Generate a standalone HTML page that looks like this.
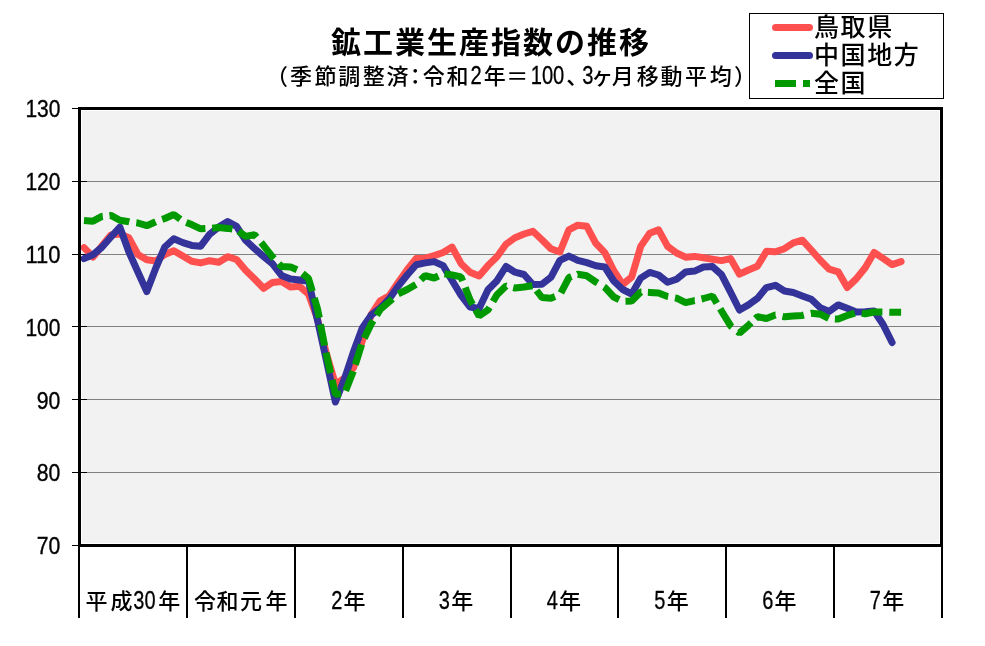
<!DOCTYPE html>
<html lang="ja"><head><meta charset="utf-8"><title>鉱工業生産指数の推移</title>
<style>
html,body{margin:0;padding:0;background:#fff;}
svg{display:block;}
text{font-family:"Liberation Sans","Noto Sans CJK JP",sans-serif;fill:#000;}
.t{font-size:30px;font-weight:bold;letter-spacing:2px;}
.s{font-size:22px;font-weight:500;}
.sd{font-size:25.5px;text-anchor:middle;stroke:#000;stroke-width:0.3px;}
.y{font-size:23.3px;text-anchor:end;stroke:#000;stroke-width:0.35px;}
.x{font-size:22px;text-anchor:middle;font-weight:500;}
.xd{font-size:25px;text-anchor:middle;stroke:#000;stroke-width:0.3px;}
.l{font-size:25px;font-weight:500;letter-spacing:1.6px;}
</style></head><body>
<svg width="985" height="646" viewBox="0 0 985 646">
<rect width="985" height="646" fill="#fff"/>
<rect x="82" y="111" width="857" height="432" fill="#f2f2f2"/>
<rect x="81" y="181" width="859" height="1" fill="#808080"/>
<rect x="81" y="254" width="859" height="1" fill="#808080"/>
<rect x="81" y="326" width="859" height="1" fill="#808080"/>
<rect x="81" y="399" width="859" height="1" fill="#808080"/>
<rect x="81" y="472" width="859" height="1" fill="#808080"/>
<rect x="72" y="108" width="15" height="1" fill="#000"/>
<rect x="72" y="181" width="15" height="1" fill="#000"/>
<rect x="72" y="254" width="15" height="1" fill="#000"/>
<rect x="72" y="326" width="15" height="1" fill="#000"/>
<rect x="72" y="399" width="15" height="1" fill="#000"/>
<rect x="72" y="472" width="15" height="1" fill="#000"/>
<rect x="72" y="545" width="15" height="1" fill="#000"/>
<polyline points="84.0,247.6 93.0,257.0 101.9,246.0 110.9,235.0 119.9,234.0 128.9,237.8 137.9,254.5 146.8,259.8 155.8,261.0 164.8,254.5 173.8,250.7 182.8,256.0 191.7,261.3 200.7,262.9 209.7,260.7 218.7,262.2 227.7,256.7 236.6,259.5 245.6,270.3 254.6,279.0 263.6,288.3 272.5,282.4 281.5,281.6 290.5,287.0 299.5,286.3 308.5,294.0 317.4,318.5 326.4,353.5 335.4,384.3 344.4,378.0 353.4,368.0 362.3,341.0 371.3,314.5 380.3,300.7 389.3,295.7 398.3,282.2 407.2,269.8 416.2,258.5 425.2,258.2 434.2,255.6 443.1,252.5 452.1,247.1 461.1,263.7 470.1,272.2 479.1,276.0 488.0,265.6 497.0,256.7 506.0,244.3 515.0,237.7 524.0,234.0 532.9,231.3 541.9,239.7 550.9,248.7 559.9,252.0 568.9,229.8 577.8,225.2 586.8,226.3 595.8,243.3 604.8,252.6 613.8,270.7 622.7,284.5 631.7,277.0 640.7,246.4 649.7,233.2 658.6,229.8 667.6,246.4 676.6,253.0 685.6,257.2 694.6,256.4 703.5,257.8 712.5,259.3 721.5,260.6 730.5,258.6 739.5,274.2 748.4,270.0 757.4,266.3 766.4,251.3 775.4,251.8 784.4,248.7 793.3,242.8 802.3,240.2 811.3,250.0 820.3,260.3 829.2,269.2 838.2,271.8 847.2,287.5 856.2,278.9 865.2,267.7 874.1,252.5 883.1,258.4 892.1,264.6 901.1,261.6" fill="none" stroke="#ff5050" stroke-width="7" stroke-linejoin="round" stroke-linecap="round"/>
<polyline points="84.0,258.6 93.0,254.7 101.9,247.2 110.9,237.0 119.9,227.2 128.9,252.0 137.9,272.0 146.8,291.6 155.8,268.0 164.8,247.0 173.8,238.7 182.8,242.6 191.7,245.4 200.7,246.2 209.7,234.2 218.7,227.0 227.7,221.6 236.6,226.4 245.6,240.3 254.6,248.7 263.6,256.5 272.5,263.8 281.5,275.4 290.5,279.0 299.5,280.0 308.5,281.3 317.4,319.6 326.4,360.4 335.4,402.0 344.4,379.0 353.4,352.0 362.3,328.0 371.3,315.0 380.3,308.0 389.3,298.8 398.3,286.1 407.2,275.0 416.2,264.7 425.2,262.9 434.2,261.6 443.1,265.6 452.1,280.5 461.1,295.4 470.1,307.0 479.1,308.5 488.0,289.7 497.0,280.7 506.0,266.5 515.0,272.2 524.0,274.5 532.9,284.5 541.9,284.3 550.9,277.3 559.9,260.3 568.9,256.1 577.8,260.3 586.8,262.6 595.8,265.7 604.8,267.0 613.8,281.0 622.7,289.5 631.7,294.0 640.7,278.1 649.7,272.4 658.6,275.0 667.6,282.3 676.6,279.2 685.6,272.0 694.6,271.1 703.5,267.0 712.5,266.6 721.5,274.6 730.5,292.1 739.5,310.0 748.4,304.9 757.4,298.4 766.4,287.6 775.4,285.3 784.4,291.0 793.3,292.5 802.3,296.0 811.3,299.3 820.3,307.7 829.2,311.4 838.2,304.9 847.2,308.2 856.2,311.9 865.2,311.7 874.1,311.0 883.1,324.5 892.1,342.5" fill="none" stroke="#333399" stroke-width="7" stroke-linejoin="round" stroke-linecap="round"/>
<polyline points="84.0,220.5 93.0,221.2 101.9,216.4 102.8,216.3" fill="none" stroke="#009900" stroke-width="7" stroke-linejoin="bevel"/>
<polyline points="109.5,215.6 110.9,215.4 119.9,220.3 128.9,221.7 129.3,221.8" fill="none" stroke="#009900" stroke-width="7" stroke-linejoin="bevel"/>
<polyline points="136.3,222.8 137.9,223.0 146.8,225.7 155.7,221.7" fill="none" stroke="#009900" stroke-width="7" stroke-linejoin="bevel"/>
<polyline points="162.2,219.4 164.8,218.5 173.8,214.5 180.3,219.3" fill="none" stroke="#009900" stroke-width="7" stroke-linejoin="bevel"/>
<polyline points="186.3,222.5 191.7,224.6 200.7,228.8 205.4,228.6" fill="none" stroke="#009900" stroke-width="7" stroke-linejoin="bevel"/>
<polyline points="212.2,228.2 218.7,227.5 227.7,228.4 232.4,229.1" fill="none" stroke="#009900" stroke-width="7" stroke-linejoin="bevel"/>
<polyline points="238.6,231.2 245.6,236.4 254.6,234.7 256.6,237.2" fill="none" stroke="#009900" stroke-width="7" stroke-linejoin="bevel"/>
<polyline points="261.1,242.6 263.6,245.6 272.5,256.9 274.1,258.6" fill="none" stroke="#009900" stroke-width="7" stroke-linejoin="bevel"/>
<polyline points="278.8,263.7 281.5,266.6 290.5,266.9 297.0,269.8" fill="none" stroke="#009900" stroke-width="7" stroke-linejoin="bevel"/>
<polyline points="302.5,273.5 308.5,278.5 312.3,291.3" fill="none" stroke="#009900" stroke-width="7" stroke-linejoin="bevel"/>
<polyline points="314.3,298.1 317.4,308.5 319.3,317.8" fill="none" stroke="#009900" stroke-width="7" stroke-linejoin="bevel"/>
<polyline points="320.5,324.5 324.6,345.7" fill="none" stroke="#009900" stroke-width="7" stroke-linejoin="bevel"/>
<polyline points="326.0,352.7 326.4,354.8 330.6,373.1" fill="none" stroke="#009900" stroke-width="7" stroke-linejoin="bevel"/>
<polyline points="332.1,379.9 335.4,394.3 341.0,394.1" fill="none" stroke="#009900" stroke-width="7" stroke-linejoin="bevel"/>
<polyline points="345.6,390.8 353.3,371.3" fill="none" stroke="#009900" stroke-width="7" stroke-linejoin="bevel"/>
<polyline points="355.3,364.6 361.6,344.5" fill="none" stroke="#009900" stroke-width="7" stroke-linejoin="bevel"/>
<polyline points="364.3,338.1 371.3,323.8 373.3,320.7" fill="none" stroke="#009900" stroke-width="7" stroke-linejoin="bevel"/>
<polyline points="376.7,315.1 380.3,309.3 389.3,301.6 392.5,298.8" fill="none" stroke="#009900" stroke-width="7" stroke-linejoin="bevel"/>
<polyline points="398.3,293.8 407.2,289.5 415.9,284.4" fill="none" stroke="#009900" stroke-width="7" stroke-linejoin="bevel"/>
<polyline points="420.8,279.8 425.2,275.6 434.2,278.0 438.4,276.0" fill="none" stroke="#009900" stroke-width="7" stroke-linejoin="bevel"/>
<polyline points="444.5,273.9 452.1,275.0 461.1,276.9 462.6,280.9" fill="none" stroke="#009900" stroke-width="7" stroke-linejoin="bevel"/>
<polyline points="465.2,287.4 470.1,300.0 472.6,304.4" fill="none" stroke="#009900" stroke-width="7" stroke-linejoin="bevel"/>
<polyline points="475.6,309.8 479.1,316.0 488.0,309.8 489.5,307.4" fill="none" stroke="#009900" stroke-width="7" stroke-linejoin="bevel"/>
<polyline points="493.0,301.5 497.0,294.7 506.0,286.0 506.4,286.1" fill="none" stroke="#009900" stroke-width="7" stroke-linejoin="bevel"/>
<polyline points="513.2,287.6 515.0,288.0 524.0,287.0 532.5,285.7" fill="none" stroke="#009900" stroke-width="7" stroke-linejoin="bevel"/>
<polyline points="536.6,290.5 541.9,297.5 550.9,298.2 555.0,296.6" fill="none" stroke="#009900" stroke-width="7" stroke-linejoin="bevel"/>
<polyline points="560.9,292.8 568.9,277.6 571.4,276.6" fill="none" stroke="#009900" stroke-width="7" stroke-linejoin="bevel"/>
<polyline points="577.6,274.3 577.8,274.2 586.8,275.8 595.8,282.0 597.6,283.1" fill="none" stroke="#009900" stroke-width="7" stroke-linejoin="bevel"/>
<polyline points="604.0,286.9 604.8,287.4 613.8,297.0 619.2,299.6" fill="none" stroke="#009900" stroke-width="7" stroke-linejoin="bevel"/>
<polyline points="625.5,301.2 631.7,301.0 640.7,292.0 641.4,292.0" fill="none" stroke="#009900" stroke-width="7" stroke-linejoin="bevel"/>
<polyline points="647.9,292.3 649.7,292.4 658.6,293.0 667.6,296.4 668.2,296.5" fill="none" stroke="#009900" stroke-width="7" stroke-linejoin="bevel"/>
<polyline points="675.0,297.9 676.6,298.2 685.6,302.6 694.6,300.6 694.7,300.6" fill="none" stroke="#009900" stroke-width="7" stroke-linejoin="bevel"/>
<polyline points="701.5,299.0 703.5,298.5 712.5,296.0 716.8,303.2" fill="none" stroke="#009900" stroke-width="7" stroke-linejoin="bevel"/>
<polyline points="720.2,308.8 721.5,311.0 730.5,325.7 732.0,326.9" fill="none" stroke="#009900" stroke-width="7" stroke-linejoin="bevel"/>
<polyline points="737.6,331.5 739.5,333.0 748.4,325.3 751.2,322.7" fill="none" stroke="#009900" stroke-width="7" stroke-linejoin="bevel"/>
<polyline points="755.5,318.6 757.4,316.8 766.4,318.5 775.4,315.1 775.5,315.1" fill="none" stroke="#009900" stroke-width="7" stroke-linejoin="bevel"/>
<polyline points="782.5,316.4 784.4,316.8 793.3,316.0 802.3,315.4 803.8,315.0" fill="none" stroke="#009900" stroke-width="7" stroke-linejoin="bevel"/>
<polyline points="810.8,313.3 811.3,313.2 820.3,314.2 828.7,318.5" fill="none" stroke="#009900" stroke-width="7" stroke-linejoin="bevel"/>
<polyline points="834.9,318.9 838.2,319.0 847.2,315.5 854.8,313.1" fill="none" stroke="#009900" stroke-width="7" stroke-linejoin="bevel"/>
<polyline points="861.7,313.3 865.2,313.7 874.1,312.0 882.4,312.0" fill="none" stroke="#009900" stroke-width="7" stroke-linejoin="bevel"/>
<polyline points="889.3,312.2 892.1,312.3 901.1,312.3" fill="none" stroke="#009900" stroke-width="7" stroke-linejoin="bevel"/>
<rect x="79.5" y="108.5" width="862" height="437" fill="none" stroke="#000" stroke-width="3"/>
<rect x="78" y="546" width="2" height="72" fill="#000"/>
<rect x="186" y="546" width="2" height="72" fill="#000"/>
<rect x="294" y="546" width="2" height="72" fill="#000"/>
<rect x="402" y="546" width="2" height="72" fill="#000"/>
<rect x="510" y="546" width="2" height="72" fill="#000"/>
<rect x="617" y="546" width="2" height="72" fill="#000"/>
<rect x="725" y="546" width="2" height="72" fill="#000"/>
<rect x="833" y="546" width="2" height="72" fill="#000"/>
<rect x="941" y="546" width="2" height="72" fill="#000"/>
<text class="y" x="60.4" y="117" textLength="35" lengthAdjust="spacingAndGlyphs">130</text>
<text class="y" x="60.4" y="190" textLength="35" lengthAdjust="spacingAndGlyphs">120</text>
<text class="y" x="60.4" y="263" textLength="35" lengthAdjust="spacingAndGlyphs">110</text>
<text class="y" x="60.4" y="336" textLength="35" lengthAdjust="spacingAndGlyphs">100</text>
<text class="y" x="60.4" y="409" textLength="23.6" lengthAdjust="spacingAndGlyphs">90</text>
<text class="y" x="60.4" y="481" textLength="23.6" lengthAdjust="spacingAndGlyphs">80</text>
<text class="y" x="60.4" y="554" textLength="23.6" lengthAdjust="spacingAndGlyphs">70</text>
<text class="x" x="96.6" y="609.4">平</text><text class="x" x="121.5" y="609.4">成</text><text class="xd" transform="translate(144.4,609.4) scale(0.8,1)">30</text><text class="x" x="169.3" y="609.4">年</text>
<text class="x" x="205.1" y="609.4">令</text><text class="x" x="227.6" y="609.4">和</text><text class="x" x="251.0" y="609.4">元</text><text class="x" x="276.4" y="609.4">年</text>
<text class="xd" transform="translate(336.7,609.4) scale(0.8,1)">2</text><text class="x" x="354.5" y="609.4">年</text>
<text class="xd" transform="translate(444.4,609.4) scale(0.8,1)">3</text><text class="x" x="462.2" y="609.4">年</text>
<text class="xd" transform="translate(552.2,609.4) scale(0.8,1)">4</text><text class="x" x="570.0" y="609.4">年</text>
<text class="xd" transform="translate(659.9,609.4) scale(0.8,1)">5</text><text class="x" x="677.7" y="609.4">年</text>
<text class="xd" transform="translate(767.7,609.4) scale(0.8,1)">6</text><text class="x" x="785.5" y="609.4">年</text>
<text class="xd" transform="translate(875.4,609.4) scale(0.8,1)">7</text><text class="x" x="893.2" y="609.4">年</text>
<text class="t" x="491" y="52.5" text-anchor="middle">鉱工業生産指数の推移</text>
<text class="s" x="277" y="84" text-anchor="middle">（</text><text class="s" x="301.1" y="84" text-anchor="middle">季</text><text class="s" x="325.45" y="84" text-anchor="middle">節</text><text class="s" x="349.25" y="84" text-anchor="middle">調</text><text class="s" x="373.65" y="84" text-anchor="middle">整</text><text class="s" x="397.55" y="84" text-anchor="middle">済</text><text class="s" x="415.2" y="84" text-anchor="middle">：</text><text class="s" x="433.65" y="84" text-anchor="middle">令</text><text class="s" x="457.5" y="84" text-anchor="middle">和</text><text class="sd" transform="translate(476,84.3) scale(0.79,1)">2</text><text class="s" x="494.65" y="84" text-anchor="middle">年</text><text class="s" x="517.15" y="84" text-anchor="middle">＝</text><text class="sd" transform="translate(547.5,84.3) scale(0.79,1)">100</text><text class="s" x="577.3" y="84" text-anchor="middle">、</text><text class="sd" transform="translate(587.8,84.3) scale(0.79,1)">3</text><text class="s" x="602.3" y="84" text-anchor="middle">ヶ</text><text class="s" x="622.75" y="84" text-anchor="middle">月</text><text class="s" x="647.85" y="84" text-anchor="middle">移</text><text class="s" x="671.6" y="84" text-anchor="middle">動</text><text class="s" x="696" y="84" text-anchor="middle">平</text><text class="s" x="720.85" y="84" text-anchor="middle">均</text><text class="s" x="745" y="84" text-anchor="middle">）</text>
<rect x="749.5" y="13.5" width="194" height="85" fill="#fff" stroke="#000" stroke-width="1"/>
<line x1="775.5" y1="27.5" x2="809.5" y2="27.5" stroke="#ff5050" stroke-width="7" stroke-linecap="round"/>
<line x1="775.5" y1="55.5" x2="809.5" y2="55.5" stroke="#333399" stroke-width="7" stroke-linecap="round"/>
<line x1="775" y1="83.5" x2="810" y2="83.5" stroke="#009900" stroke-width="7" stroke-dasharray="21 7"/>
<text class="l" x="814" y="36">鳥取県</text>
<text class="l" x="814" y="64.2">中国地方</text>
<text class="l" x="814" y="92.3">全国</text>
</svg>
</body></html>
